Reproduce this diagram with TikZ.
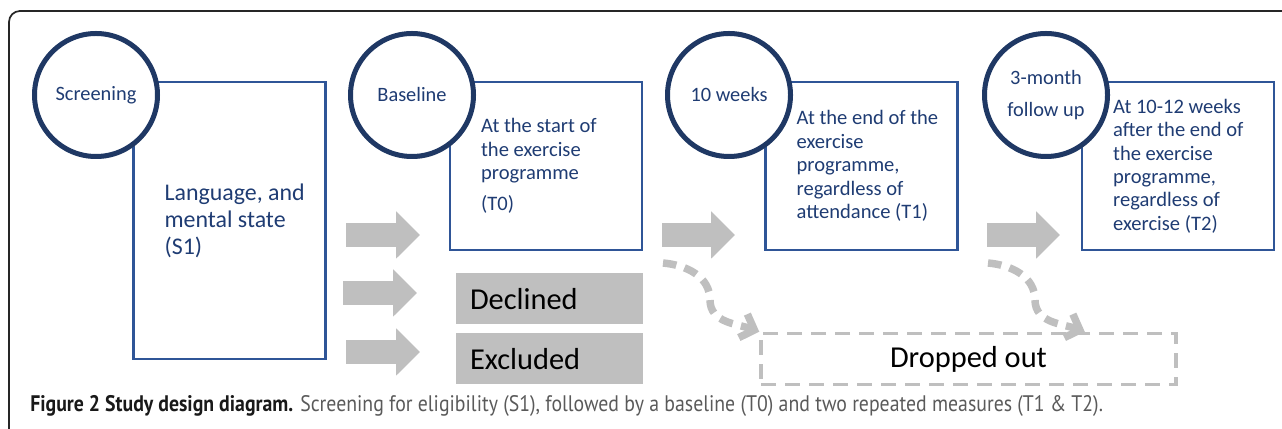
\documentclass[tikz,border=0pt]{standalone}
\usepackage{fontspec}
\setmainfont{Carlito}
\newfontfamily\captionfont[FakeStretch=0.88]{PT Sans}
\usepackage{tikz}
\usetikzlibrary{arrows.meta,positioning,shadows}
\definecolor{ringblue}{RGB}{31,56,100}
\definecolor{boxblue}{RGB}{47,85,151}
\definecolor{textblue}{RGB}{31,60,115}
\definecolor{arrowgrey}{RGB}{191,191,191}
\definecolor{capgrey}{RGB}{90,90,90}

\begin{document}
\begin{tikzpicture}[
		stage/.style={circle, draw=ringblue, line width=0.1cm, fill=white, minimum size=2.46cm, inner sep=0pt, align=center, text=textblue, font=\fontsize{11.6}{14}\selectfont, drop shadow={shadow xshift=0.02cm, shadow yshift=-0.05cm, opacity=0.3}},
		infobox/.style={draw=boxblue, line width=0.05cm, minimum width=3.84cm, minimum height=3.36cm, inner sep=0pt},
		infotext/.style={anchor=west, align=left, inner sep=0pt, text=textblue, font=\fontsize{11.7}{13.3}\selectfont},
		outbox/.style={fill=arrowgrey, minimum width=3.74cm, minimum height=1.02cm, text width=3.18cm, inner xsep=0.28cm, align=left, font=\fontsize{17.3}{20}\selectfont},
		blockarrow/.style={draw=arrowgrey, line width=0.48cm, -{Triangle[width=0.92cm,length=0.48cm]}},
		droparrow/.style={draw=arrowgrey, line width=0.15cm, dash pattern=on 0.27cm off 0.17cm, -{Straight Barb[length=0.24cm,width=0.5cm]}}
	]
		\useasboundingbox (0,0) rectangle (25.64,8.58);

		\draw[black!85, line width=0.035cm, rounded corners=0.22cm] (0.18,-1) rectangle (27,8.36);

		\node[infobox, minimum height=5.54cm] (s1box) at (4.59,4.17) {};
		\node[infobox] (t0box) at (10.92,5.26) {};
		\node[infobox] (t1box) at (17.23,5.26) {};
		\node[infobox] (t2box) at (23.56,5.26) {};

		\node[infotext, font=\fontsize{13.6}{15.3}\selectfont] (s1text) at ([xshift=0.64cm]s1box.west) {Language, and\\mental state\\(S1)};
		\node[infotext] (t0text) at ([xshift=0.64cm]t0box.west) {At the start of\\the exercise\\programme\\[0.16cm](T0)};
		\node[infotext] (t1text) at ([xshift=0.64cm]t1box.west) {At the end of the\\exercise\\programme,\\regardless of\\attendance (T1)};
		\node[infotext] (t2text) at ([xshift=0.64cm]t2box.west) {At 10-12 weeks\\after the end of\\the exercise\\programme,\\regardless of\\exercise (T2)};

		\node[stage] (screening) at (1.92,6.68) {Screening};
		\node[stage] (baseline) at (8.24,6.68) {Baseline};
		\node[stage] (tenweeks) at (14.58,6.68) {10 weeks};
		\node[stage] (followup) at (20.92,6.68) {3-month\\[4pt]follow up};

		\node[outbox] (declined) at (10.99,2.60) {Declined};
		\node[outbox] (excluded) at (10.99,1.40) {Excluded};

		\node[draw=arrowgrey, line width=0.07cm, dash pattern=on 0.3cm off 0.18cm, minimum width=8.30cm, minimum height=1.02cm, font=\fontsize{17.3}{20}\selectfont] (dropped) at (19.37,1.40) {Dropped out};

		\coordinate (s1out) at (6.92,3.88);
		\coordinate (t0in) at (8.40,3.88);
		\coordinate (declout) at (6.86,2.72);
		\coordinate (declin) at (8.34,2.72);
		\coordinate (exclout) at (6.92,1.54);
		\coordinate (exclin) at (8.40,1.54);
		\coordinate (t0out) at (13.24,3.88);
		\coordinate (t1in) at (14.70,3.88);
		\coordinate (t1out) at (19.74,3.88);
		\coordinate (t2in) at (21.20,3.88);

		\draw[blockarrow] (s1out) -- (t0in);
		\draw[blockarrow] (declout) -- (declin);
		\draw[blockarrow] (exclout) -- (exclin);
		\draw[blockarrow] (t0out) -- (t1in);
		\draw[blockarrow] (t1out) -- (t2in);

		\coordinate (t0drop) at (13.26,3.32);
		\coordinate (t1drop) at (19.76,3.32);

		\draw[droparrow] (t0drop) to[out=-5,in=90] ++(0.94,-0.74) to[out=-90,in=160] (dropped.north west);
		\draw[droparrow] (t1drop) to[out=-5,in=90] ++(0.94,-0.74) to[out=-90,in=160] ([xshift=-1.86cm]dropped.north east);

		\node[anchor=base west, inner sep=0pt, text=black!90, font=\captionfont\fontsize{12.8}{14}\selectfont] (caption) at (0.6,0.34) {\textbf{Figure 2 Study design diagram.} \textcolor{capgrey}{Screening for eligibility (S1), followed by a baseline (T0) and two repeated measures (T1 \& T2).}};
	\end{tikzpicture}
\end{document}
